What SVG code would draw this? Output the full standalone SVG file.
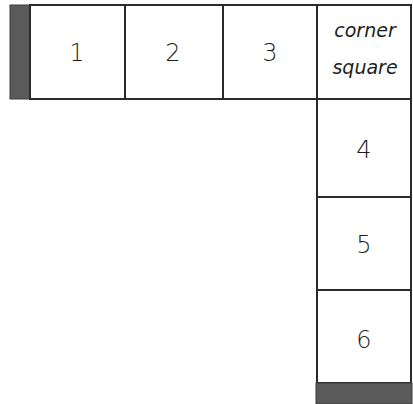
<svg xmlns="http://www.w3.org/2000/svg" width="413" height="404" viewBox="0 0 413 404">
<style>
.cell{fill:#fff;stroke:#2a2a2a;stroke-width:2}
.bar{fill:#5a5a5a;stroke:#3a3a3a;stroke-width:1}
.num{font-family:"DejaVu Sans",sans-serif;font-size:24px;font-weight:300;fill:#1e1e1e;text-anchor:middle}
.lbl{font-family:"DejaVu Sans",sans-serif;font-size:19px;font-weight:300;font-style:italic;fill:#1e1e1e;text-anchor:middle}
</style>
<rect width="413" height="404" fill="#fff"/>
<g id="start-bar"><rect class="bar" x="10" y="5" width="20" height="94"/></g>
<g id="cell1"><rect class="cell" x="30" y="5" width="95" height="94"/><text class="num" x="77" y="61">1</text></g>
<g id="cell2"><rect class="cell" x="125" y="5" width="98" height="94"/><text class="num" x="173" y="61">2</text></g>
<g id="cell3"><rect class="cell" x="223" y="5" width="94" height="94"/><text class="num" x="270" y="61">3</text></g>
<g id="corner"><rect class="cell" x="317" y="5" width="94" height="94"/><text class="lbl" x="365" y="37">corner</text><text class="lbl" x="365" y="74">square</text></g>
<g id="cell4"><rect class="cell" x="317" y="99" width="94" height="98"/><text class="num" x="364" y="158">4</text></g>
<g id="cell5"><rect class="cell" x="317" y="197" width="94" height="93"/><text class="num" x="364" y="253">5</text></g>
<g id="cell6"><rect class="cell" x="317" y="290" width="94" height="93"/><text class="num" x="364" y="348">6</text></g>
<g id="end-bar"><rect class="bar" x="316" y="383" width="96" height="21"/></g>
<g id="connectors"></g>
</svg>
